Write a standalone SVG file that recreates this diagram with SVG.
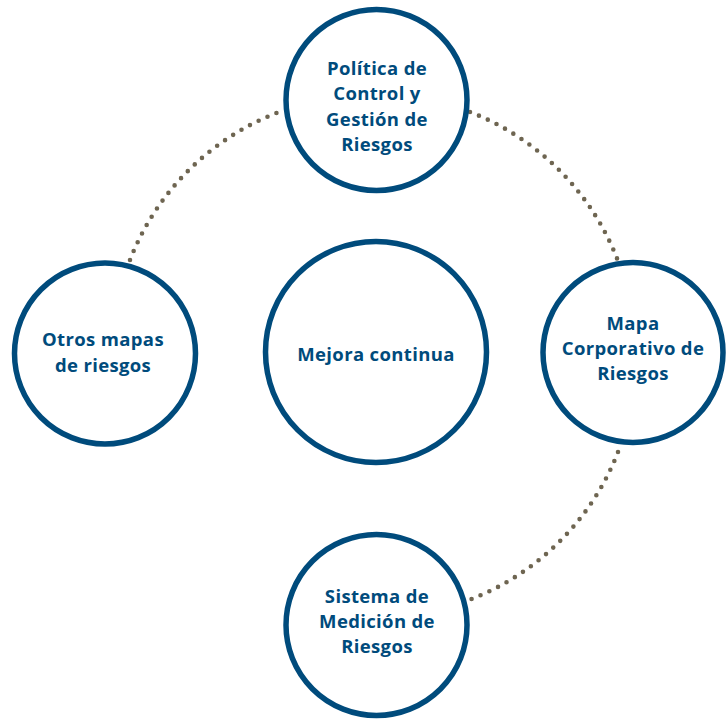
<svg xmlns="http://www.w3.org/2000/svg" width="726" height="720" viewBox="0 0 726 720">
<style>
.node{fill:#ffffff;stroke:#004b7c;stroke-width:5.5}
.lbl{font-family:"Open Sans","Lato",sans-serif;font-weight:700;font-size:18.5px;letter-spacing:0.35px;fill:#004b7c;text-anchor:middle}
.dots{fill:none;stroke:#6e6551;stroke-width:4.6;stroke-linecap:round;stroke-dasharray:0 9.7}
</style>
<rect width="726" height="720" fill="#ffffff"/>
<g id="connectors">
<path class="dots" d="M130,260 A258,258 0 0 1 279,112"/>
<path class="dots" d="M470,112 A258,258 0 0 1 618,261"/>
<path class="dots" d="M618,452 A258,258 0 0 1 469,600"/>
</g>
<g id="politica">
<circle class="node" cx="376.5" cy="100" r="90.5"/>
<text class="lbl" x="377" y="75">Política de</text>
<text class="lbl" x="377" y="100">Control y</text>
<text class="lbl" x="377" y="126">Gestión de</text>
<text class="lbl" x="377" y="151">Riesgos</text>
</g>
<g id="otros">
<circle class="node" cx="105" cy="353.5" r="90.5"/>
<text class="lbl" x="103" y="346">Otros mapas</text>
<text class="lbl" x="103" y="372">de riesgos</text>
</g>
<g id="mejora">
<circle class="node" cx="376" cy="352" r="110.5"/>
<text class="lbl" x="376" y="361">Mejora continua</text>
</g>
<g id="mapa">
<circle class="node" cx="633" cy="352.5" r="90"/>
<text class="lbl" x="633" y="330">Mapa</text>
<text class="lbl" x="633" y="355">Corporativo de</text>
<text class="lbl" x="633" y="380">Riesgos</text>
</g>
<g id="sistema">
<circle class="node" cx="376.5" cy="625" r="90.5"/>
<text class="lbl" x="377" y="603">Sistema de</text>
<text class="lbl" x="377" y="628">Medición de</text>
<text class="lbl" x="377" y="653">Riesgos</text>
</g>
</svg>
